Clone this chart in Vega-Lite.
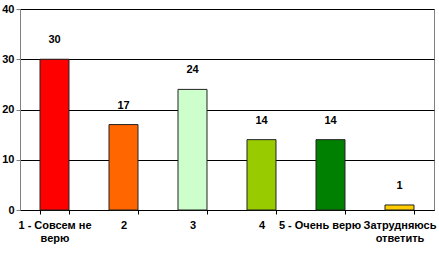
{
  "$schema": "https://vega.github.io/schema/vega-lite/v6.json",
  "width": 414,
  "height": 201,
  "autosize": "none",
  "padding": {"left": 20, "top": 9, "right": 5, "bottom": 45},
  "background": "white",
  "config": {
    "view": {"stroke": "#808080", "strokeWidth": 1},
    "font": "Liberation Sans"
  },
  "data": {
    "values": [
      {"cat": "1 - Совсем не верю", "value": 30, "color": "#FF0000"},
      {"cat": "2", "value": 17, "color": "#FF6600"},
      {"cat": "3", "value": 24, "color": "#CCFFCC"},
      {"cat": "4", "value": 14, "color": "#99CC00"},
      {"cat": "5 - Очень верю", "value": 14, "color": "#008000"},
      {"cat": "Затрудняюсь ответить", "value": 1, "color": "#FFCC00"}
    ]
  },
  "encoding": {
    "x": {
      "field": "cat",
      "type": "nominal",
      "sort": null,
      "scale": {"paddingInner": 0.58, "paddingOuter": 0.29},
      "axis": {
        "title": null,
        "labelAngle": 0,
        "labelFont": "Liberation Sans",
        "labelFontWeight": "bold",
        "labelFontSize": 11,
        "labelColor": "black",
        "labelPadding": 5,
        "labelLineHeight": 13,
        "labelExpr": "datum.value == '1 - Совсем не верю' ? ['1 - Совсем не', 'верю'] : datum.value == 'Затрудняюсь ответить' ? ['Затрудняюсь', 'ответить'] : datum.value",
        "labelOffset": {"condition": {"test": "datum.value == '5 - Очень верю'", "value": -11}, "value": 0},
        "tickBand": "extent",
        "tickColor": "black",
        "tickSize": 4,
        "domainColor": "black",
        "labelOverlap": false,
        "labelBound": false
      }
    },
    "y": {
      "field": "value",
      "type": "quantitative",
      "scale": {"domain": [0, 40]},
      "axis": {
        "title": null,
        "values": [0, 10, 20, 30, 40],
        "labelFont": "Liberation Sans",
        "labelFontWeight": "bold",
        "labelFontSize": 11,
        "labelColor": "black",
        "labelPadding": 2,
        "tickSize": 4,
        "tickColor": "#808080",
        "domainColor": "#808080",
        "grid": true,
        "gridColor": "black",
        "gridOpacity": 1,
        "gridWidth": 1
      }
    }
  },
  "layer": [
    {
      "mark": {"type": "bar", "stroke": "#222222", "strokeWidth": 1},
      "encoding": {
        "color": {"field": "color", "type": "nominal", "scale": null}
      }
    },
    {
      "mark": {"type": "text", "dy": -19, "fontWeight": "bold", "fontSize": 11, "font": "Liberation Sans", "color": "black"},
      "encoding": {"text": {"field": "value", "type": "quantitative"}}
    }
  ]
}
